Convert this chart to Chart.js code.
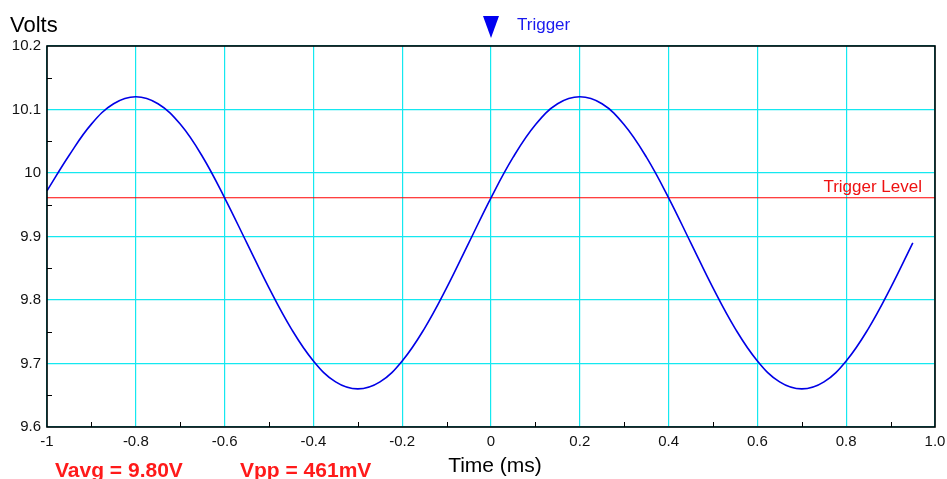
<!DOCTYPE html>
<html>
<head>
<meta charset="utf-8">
<script src="https://cdn.jsdelivr.net/npm/chart.js"></script>
<style>
  body { margin: 0; background: #fff; }
  #wrap { width: 947px; height: 479px; }
</style>
</head>
<body>
<div id="wrap"><canvas id="scope" width="947" height="479"></canvas></div>
<script>
// values
const timeMs = [-1.00, -0.95, -0.90, -0.85, -0.80, -0.75, -0.70, -0.65, -0.60, -0.55,
                -0.50, -0.45, -0.40, -0.35, -0.30, -0.25, -0.20, -0.15, -0.10, -0.05,
                 0.00,  0.05,  0.10,  0.15,  0.20,  0.25,  0.30,  0.35,  0.40,  0.45,
                 0.50,  0.55,  0.60,  0.65,  0.70,  0.75,  0.80,  0.85,  0.90,  0.95];
const volts  = [9.972, 10.028, 10.077, 10.109, 10.120, 10.109, 10.077, 10.026, 9.961, 9.890,
                9.819, 9.755, 9.704, 9.671, 9.660, 9.671, 9.704, 9.755, 9.819, 9.890,
                9.961, 10.025, 10.076, 10.109, 10.120, 10.109, 10.076, 10.025, 9.961, 9.890,
                9.819, 9.755, 9.704, 9.671, 9.660, 9.671, 9.704, 9.755, 9.819, 9.890];
const triggerLevel = 9.961;
const triggerTime = 0;

const xTicks = [-1, -0.8, -0.6, -0.4, -0.2, 0, 0.2, 0.4, 0.6, 0.8, 1];
const xTickLabels = ["-1", "-0.8", "-0.6", "-0.4", "-0.2", "0", "0.2", "0.4", "0.6", "0.8", "1.0"];
const yTicks = [9.6, 9.7, 9.8, 9.9, 10, 10.1, 10.2];
const yTickLabels = ["9.6", "9.7", "9.8", "9.9", "10", "10.1", "10.2"];
const xMinor = [-0.9, -0.7, -0.5, -0.3, -0.1, 0.1, 0.3, 0.5, 0.7, 0.9];
const yMinor = [9.65, 9.75, 9.85, 9.95, 10.05, 10.15];

const FONT = '"Liberation Sans", Arial, Helvetica, sans-serif';
const GRID = '#14e8f0';

const scopeDecor = {
  id: 'scopeDecor',
  afterDraw(chart) {
    const c = chart.ctx;
    const a = chart.chartArea;
    const xs = chart.scales.x, ys = chart.scales.y;
    c.save();

    // frame
    c.strokeStyle = '#000';
    c.lineWidth = 1.6;
    c.strokeRect(a.left, a.top, a.right - a.left, a.bottom - a.top);

    // minor ticks
    c.lineWidth = 1;
    c.beginPath();
    xMinor.forEach(v => {
      const px = Math.round(xs.getPixelForValue(v)) + 0.5;
      c.moveTo(px, a.bottom);
      c.lineTo(px, a.bottom - 5);
    });
    yMinor.forEach(v => {
      const py = Math.round(ys.getPixelForValue(v)) + 0.5;
      c.moveTo(a.left, py);
      c.lineTo(a.left + 5, py);
    });
    c.stroke();

    // axis titles
    c.fillStyle = '#000';
    c.font = '22px ' + FONT;
    c.textAlign = 'left';
    c.textBaseline = 'alphabetic';
    c.fillText('Volts', 10, 32);
    c.font = '21px ' + FONT;
    c.textAlign = 'center';
    c.fillText('Time (ms)', 495, 472);

    // trigger marker
    const tx = xs.getPixelForValue(triggerTime);
    c.fillStyle = '#0000f0';
    c.beginPath();
    c.moveTo(tx - 8, 16);
    c.lineTo(tx + 8, 16);
    c.lineTo(tx, 38);
    c.closePath();
    c.fill();
    c.fillStyle = '#1a1aee';
    c.font = '17px ' + FONT;
    c.textAlign = 'left';
    c.fillText('Trigger', tx + 26, 30);

    // trigger level label
    c.fillStyle = '#ee1111';
    c.textAlign = 'right';
    c.fillText('Trigger Level', 922, ys.getPixelForValue(triggerLevel) - 6);

    // measurements
    c.fillStyle = '#ff1a1a';
    c.font = 'bold 21px ' + FONT;
    c.textAlign = 'left';
    c.fillText('Vavg = 9.80V', 55, 477);
    c.fillText('Vpp = 461mV', 240, 477);

    c.restore();
  }
};

new Chart(document.getElementById('scope'), {
  type: 'line',
  data: {
    datasets: [
      {
        data: timeMs.map((t, i) => ({ x: t, y: volts[i] })),
        borderColor: '#0000e6',
        borderWidth: 1.6,
        pointRadius: 0,
        tension: 0.4,
        fill: false
      },
      {
        data: [{ x: -1, y: triggerLevel }, { x: 1, y: triggerLevel }],
        borderColor: '#ff0000',
        borderWidth: 1.2,
        pointRadius: 0,
        fill: false
      }
    ]
  },
  options: {
    responsive: false,
    animation: false,
    layout: { padding: { top: 46, right: 12, left: 0, bottom: 0 } },
    plugins: { legend: { display: false }, tooltip: { enabled: false } },
    scales: {
      x: {
        type: 'linear',
        min: -1,
        max: 1,
        afterBuildTicks: s => { s.ticks = xTicks.map(v => ({ value: v })); },
        afterFit: s => { s.height = 52; s.paddingLeft = 0; s.paddingRight = 0; },
        ticks: {
          autoSkip: false,
          maxRotation: 0,
          padding: 6,
          color: '#111',
          font: { family: FONT, size: 15 },
          callback: (v, i) => xTickLabels[i]
        },
        grid: { color: GRID, lineWidth: 1.2, drawTicks: false },
        border: { display: false }
      },
      y: {
        min: 9.6,
        max: 10.2,
        afterBuildTicks: s => { s.ticks = yTicks.map(v => ({ value: v })); },
        afterFit: s => { s.width = 47; s.paddingTop = 0; s.paddingBottom = 0; },
        ticks: {
          autoSkip: false,
          padding: 6,
          color: '#111',
          font: { family: FONT, size: 15 },
          callback: (v, i) => yTickLabels[i]
        },
        grid: { color: GRID, lineWidth: 1.2, drawTicks: false },
        border: { display: false }
      }
    }
  },
  plugins: [scopeDecor]
});
</script>
</body>
</html>
